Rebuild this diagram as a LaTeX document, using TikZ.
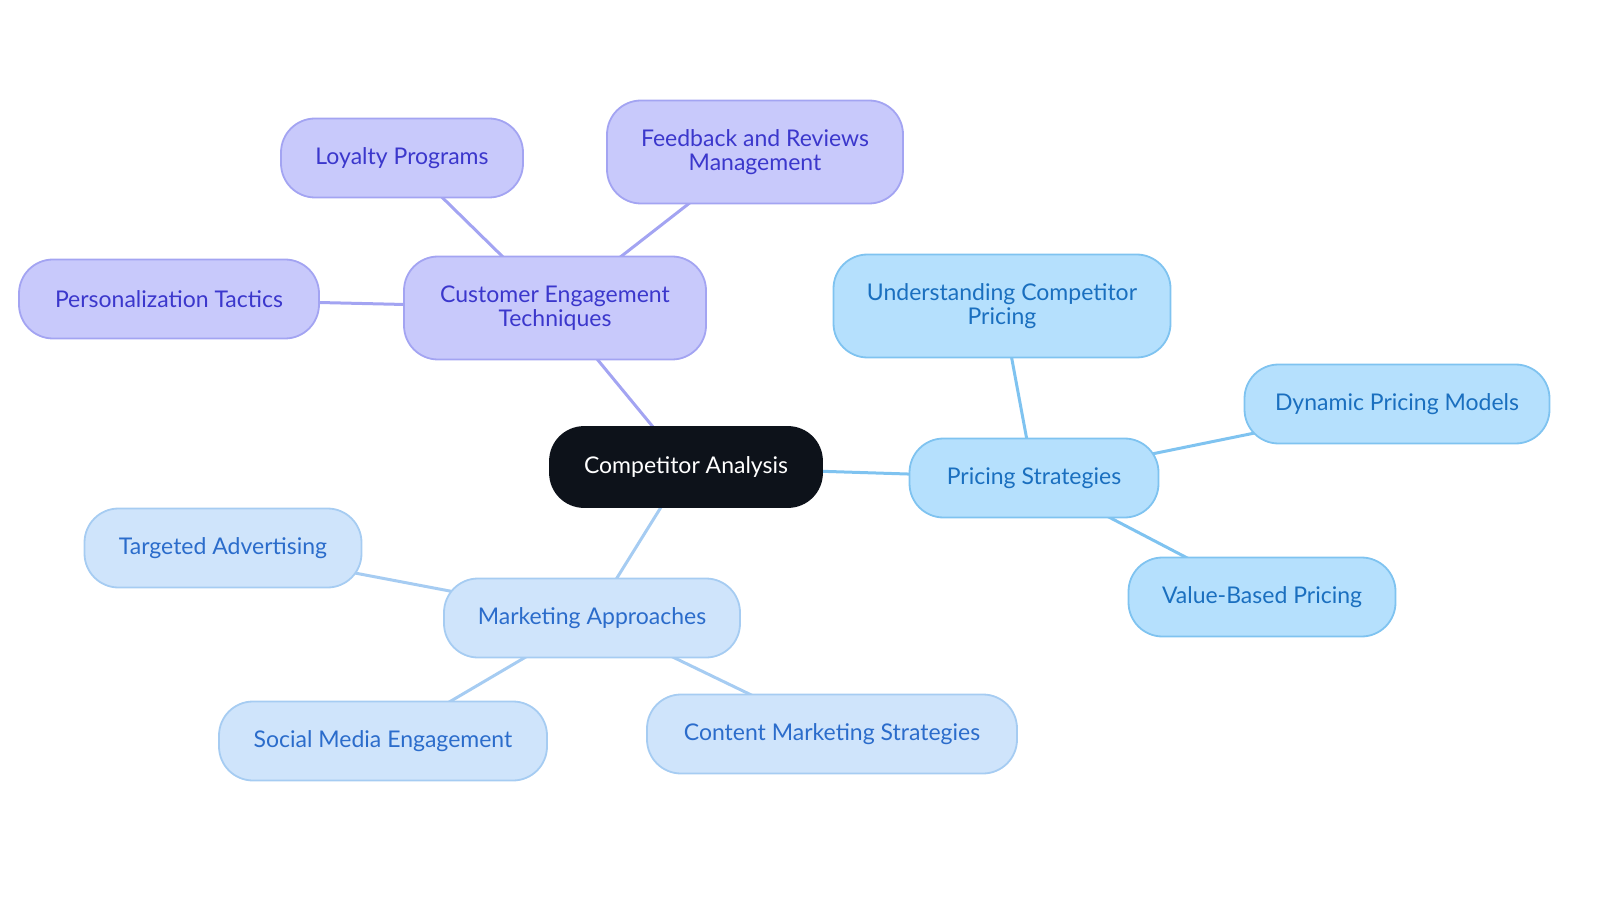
\documentclass[tikz,border=0pt]{standalone}
\usepackage{fontspec}
\setmainfont{Lato}
\usepackage{tikz}
\usetikzlibrary{backgrounds}
\definecolor{rootfill}{HTML}{0D121A}
\definecolor{engfill}{HTML}{C8C9FB}
\definecolor{engdraw}{HTML}{A3A4F2}
\definecolor{engtext}{HTML}{3B37CC}
\definecolor{pricefill}{HTML}{B5E0FD}
\definecolor{pricedraw}{HTML}{7FC3F0}
\definecolor{pricetext}{HTML}{1A6FBF}
\definecolor{mktfill}{HTML}{CFE4FB}
\definecolor{mktdraw}{HTML}{A6CCF2}
\definecolor{mkttext}{HTML}{2B6CCB}
\begin{document}
\begin{tikzpicture}[x=0.5pt,y=-0.5pt,
    box/.style={rectangle, rounded corners=17pt, line width=0.9pt, align=center,
        inner sep=0pt, font=\fontsize{11.5}{12}\selectfont},
    rootbox/.style={box, fill=rootfill, draw=rootfill, text=white},
    engbox/.style={box, fill=engfill, draw=engdraw, text=engtext},
    pricebox/.style={box, fill=pricefill, draw=pricedraw, text=pricetext},
    mktbox/.style={box, fill=mktfill, draw=mktdraw, text=mkttext},
    englink/.style={draw=engdraw, line width=1.5pt},
    pricelink/.style={draw=pricedraw, line width=1.5pt},
    mktlink/.style={draw=mktdraw, line width=1.5pt}]
    \useasboundingbox (0,0) rectangle (1600,903);
    \node[rootbox, minimum width=136pt, minimum height=40pt] (root) at (686,467) {Competitor Analysis};
    \node[engbox, minimum width=151pt, minimum height=51.5pt] (engage) at (555,308) {Customer Engagement\\Techniques};
    \node[engbox, minimum width=121pt, minimum height=39.5pt] (loyalty) at (402,158) {Loyalty Programs};
    \node[engbox, minimum width=148pt, minimum height=51.5pt] (feedback) at (755,152) {Feedback and Reviews\\Management};
    \node[engbox, minimum width=150pt, minimum height=39.5pt] (personal) at (169,299) {Personalization Tactics};
    \node[pricebox, minimum width=168.5pt, minimum height=51.5pt] (understand) at (1002,306) {Understanding Competitor\\Pricing};
    \node[pricebox, minimum width=124.5pt, minimum height=39.5pt] (pricing) at (1034,478) {Pricing Strategies};
    \node[pricebox, minimum width=152.5pt, minimum height=39.5pt] (dynamic) at (1397,404) {Dynamic Pricing Models};
    \node[pricebox, minimum width=133.5pt, minimum height=39.5pt] (value) at (1262,597) {Value-Based Pricing};
    \node[mktbox, minimum width=148pt, minimum height=39.5pt] (marketing) at (592,618) {Marketing Approaches};
    \node[mktbox, minimum width=138.5pt, minimum height=39.5pt] (targeted) at (223,548) {Targeted Advertising};
    \node[mktbox, minimum width=164pt, minimum height=39.5pt] (social) at (383,741) {Social Media Engagement};
    \node[mktbox, minimum width=185pt, minimum height=39.5pt] (content) at (832,734) {Content Marketing Strategies};
    \begin{scope}[on background layer]
        \draw[englink] (root.center) -- (engage.center);
        \draw[englink] (engage.center) -- (loyalty.center);
        \draw[englink] (engage.center) -- (feedback.center);
        \draw[englink] (engage.center) -- (personal.center);
        \draw[pricelink] (root.center) -- (pricing.center);
        \draw[pricelink] (pricing.center) -- (understand.center);
        \draw[pricelink] (pricing.center) -- (dynamic.center);
        \draw[pricelink] (pricing.center) -- (value.center);
        \draw[mktlink] (root.center) -- (marketing.center);
        \draw[mktlink] (marketing.center) -- (targeted.center);
        \draw[mktlink] (marketing.center) -- (social.center);
        \draw[mktlink] (marketing.center) -- (content.center);
    \end{scope}
\end{tikzpicture}
\end{document}
